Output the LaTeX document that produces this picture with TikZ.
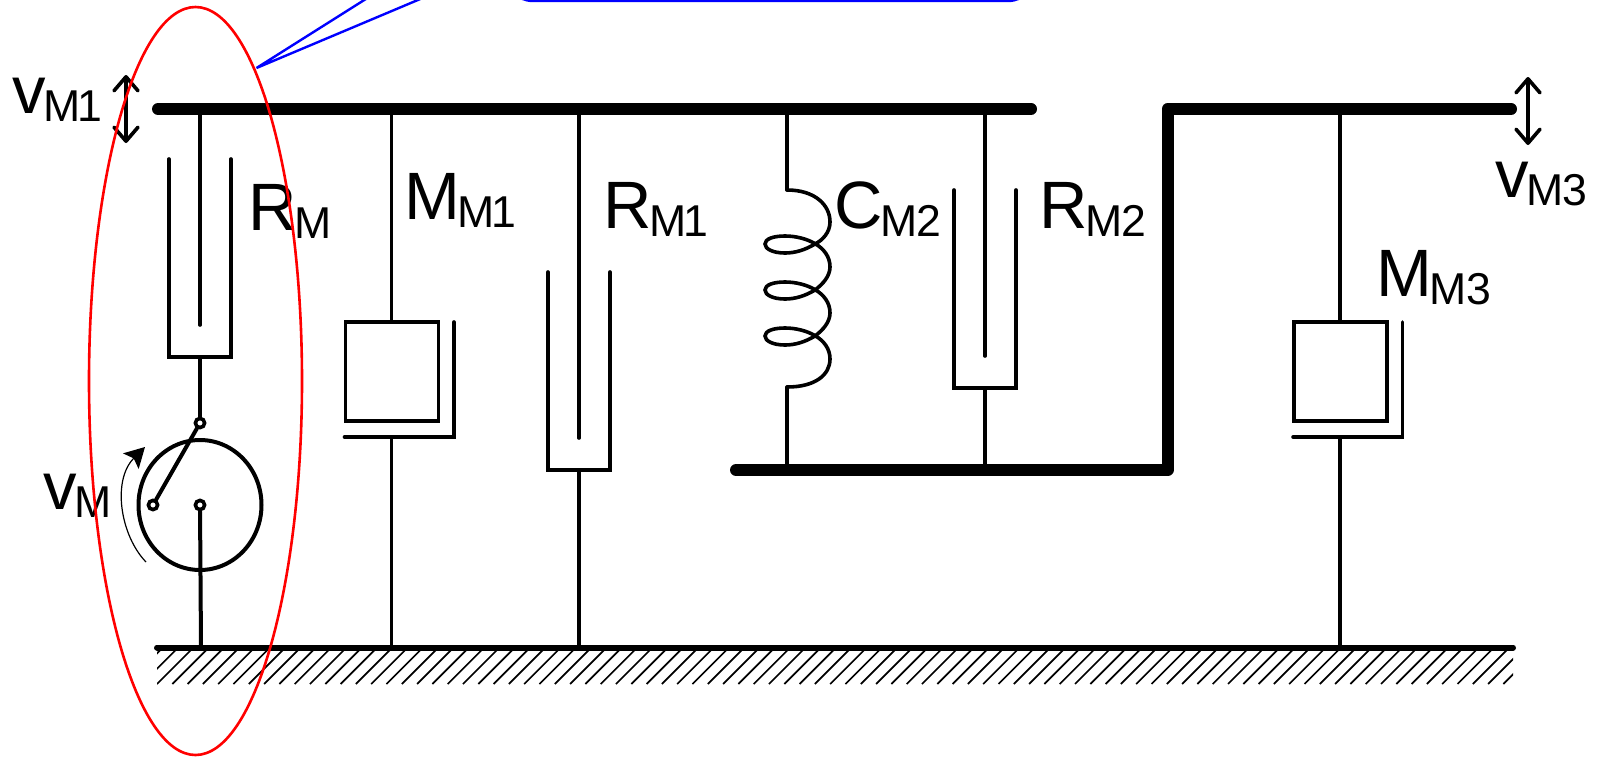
\documentclass[tikz,border=0pt]{standalone}
\usepackage{fontspec}
\setmainfont{Liberation Sans}
\usetikzlibrary{arrows.meta,shapes.geometric}

\newcommand{\sublabel}[2]{{\fontsize{33.5}{36}\selectfont #1}\kern-1pt{\fontsize{22.3}{24}\selectfont\raisebox{-4.4pt}{#2}}}

\tikzset{
    wire/.style={line width=1.8pt,line cap=round,line join=miter},
    bus/.style={line width=6pt,line cap=round,line join=round},
    ground/.style={line width=3pt,line cap=round},
    motion/.style={line width=1.8pt,{Straight Barb[length=7pt,width=12pt,round]}-{Straight Barb[length=7pt,width=12pt,round]}},
    pin/.style={circle,draw,fill=white,line width=1.8pt,inner sep=0pt,minimum size=4.6pt},
    sym/.style={anchor=base west,inner sep=0pt,outer sep=0pt},
}

\begin{document}
\begin{tikzpicture}[x=0.5pt,y=-0.5pt]
        \clip (0,0) rectangle (1600,756);

        %hatching under the ground line
        \begin{scope}
            \clip (157,649) rectangle (1513,684);
            \foreach \i in {-3,...,90}
                \draw[line width=0.85pt] ({157+\i*15.3},684) -- ({191+\i*15.3},650);
        \end{scope}

        \coordinate (busL) at (158,109);
        \coordinate (busR) at (1031,109);
        \coordinate (lowL) at (736,470);
        \coordinate (lowC) at (1167.5,470);
        \coordinate (topC) at (1167.5,109);
        \coordinate (topR) at (1511,109);
        \coordinate (gndL) at (157,647.5);
        \coordinate (gndR) at (1513,647.5);

        %dashpots
        \foreach \n/\xc/\yt/\ye in {M/200/159/423, M1/579/272/647, M2/985/190/470} {
            \coordinate (up\n) at (\xc,109);
            \coordinate (rod\n) at (\xc,\yt+166);
            \coordinate (wallL\n) at (\xc-31,\yt);
            \coordinate (baseL\n) at (\xc-31,\yt+198);
            \coordinate (baseR\n) at (\xc+31,\yt+198);
            \coordinate (wallR\n) at (\xc+31,\yt);
            \coordinate (base\n) at (\xc,\yt+198);
            \coordinate (down\n) at (\xc,\ye);
            \draw[wire] (up\n) -- (rod\n);
            \draw[wire] (wallL\n) -- (baseL\n) -- (baseR\n) -- (wallR\n);
            \draw[wire] (base\n) -- (down\n);
        }

        %masses
        \foreach \n/\xc in {M1/391.5, M3/1340} {
            \coordinate (mup\n) at (\xc,109);
            \coordinate (mtop\n) at (\xc,322);
            \coordinate (mlow\n) at (\xc,437);
            \coordinate (mgnd\n) at (\xc,647);
            \coordinate (sideT\n) at (\xc+62.5,322);
            \coordinate (sideB\n) at (\xc+62.5,437);
            \coordinate (sideL\n) at (\xc-47,437);
            \draw[wire] (mup\n) -- (mtop\n);
            \draw[wire] (\xc-46,322) rectangle (\xc+47,421);
            \draw[wire] (sideT\n) -- (sideB\n) -- (sideL\n);
            \draw[wire] (mlow\n) -- (mgnd\n);
        }

        %spring
        \coordinate (cupT) at (787,109);
        \coordinate (cupB) at (787,190);
        \coordinate (cdnT) at (787,387);
        \coordinate (cdnB) at (787,470);
        \draw[wire] (cupT) -- (cupB);
        \draw[wire] (cdnT) -- (cdnB);
        \draw[wire] (cupB) .. controls (815,190) and (830,205) .. (830,222) .. controls (830,232) and (823,240) .. (815,244);
        \foreach \yc in {244,290,336}
            \draw[wire] (815,\yc) .. controls (805,\yc+6) and (795,\yc+9) .. (785,\yc+9)
                .. controls (773,\yc+9) and (765,\yc+5) .. (765,\yc)
                .. controls (765,\yc-5) and (773,\yc-8) .. (785,\yc-8)
                .. controls (805,\yc-8) and (830,\yc+2) .. (830,\yc+23);
        \foreach \yc in {244,290}
            \draw[wire] (830,\yc+23) .. controls (830,\yc+32) and (823,\yc+40) .. (815,\yc+46);
        \draw[wire] (830,359) .. controls (830,375) and (815,387) .. (cdnT);

        %rotary part
        \node[ellipse,draw,line width=2pt,inner sep=0pt,minimum width=61.5pt,minimum height=65pt] (rotor) at (200,505) {};
        \node[pin] (pinT) at (200,423) {};
        \node[pin] (pinL) at (153,505) {};
        \node[pin] (pinC) at (200,505) {};
        \coordinate (rotorG) at (201,647);
        \coordinate (arcS) at (146,562);
        \coordinate (arcE) at (145,447);
        \draw[wire,line width=2pt] (pinT) -- (pinL);
        \draw[wire,line width=2pt] (pinC) -- (rotorG);
        \draw[line width=0.6pt,-{Stealth[length=10pt,width=11pt,inset=2pt]}] (arcS) .. controls (120,535) and (112,480) .. (arcE);

        %bars
        \draw[bus] (busL) -- (busR);
        \draw[bus] (lowL) -- (lowC) -- (topC) -- (topR);
        \draw[ground] (gndL) -- (gndR);

        %speed arrows
        \coordinate (v1T) at (126,75);
        \coordinate (v1B) at (126,143);
        \coordinate (v3T) at (1528,77);
        \coordinate (v3B) at (1528,145);
        \draw[motion] (v1T) -- (v1B);
        \draw[motion] (v3T) -- (v3B);

        %labels
        \node[sym] (vm1) at (12,113) {\sublabel{v}{M\kern-1.6pt 1}};
        \node[sym] (rm) at (248,230) {\sublabel{R}{M}};
        \node[sym] (mm1) at (404,219) {\sublabel{M}{M\kern-1.6pt 1}};
        \node[sym] (rm1) at (603,228) {\sublabel{R}{M\kern-1.6pt 1}};
        \node[sym] (cm2) at (834,228) {\sublabel{C}{M\kern-.5pt 2}};
        \node[sym] (rm2) at (1039,228) {\sublabel{R}{M\kern-.5pt 2}};
        \node[sym] (vm3) at (1495,197) {\sublabel{v}{M\kern-.5pt 3}};
        \node[sym] (mm3) at (1376,296) {\sublabel{M}{M\kern-.5pt 3}};
        \node[sym] (vm) at (43,509) {\sublabel{v}{M}};

        %red outline and blue callout
        \draw[red,line width=1.3pt] (195.5,381) ellipse [x radius=106.5,y radius=374];
        \coordinate (tip) at (256.5,68);
        \coordinate (tipA) at (369,-3);
        \coordinate (tipB) at (425,-3);
        \draw[blue,line width=1.2pt] (tipA) -- (tip) -- (tipB);
        \draw[blue,line width=1.2pt,rounded corners=14pt] (505,-60) rectangle (1036,1);
\end{tikzpicture}
\end{document}
